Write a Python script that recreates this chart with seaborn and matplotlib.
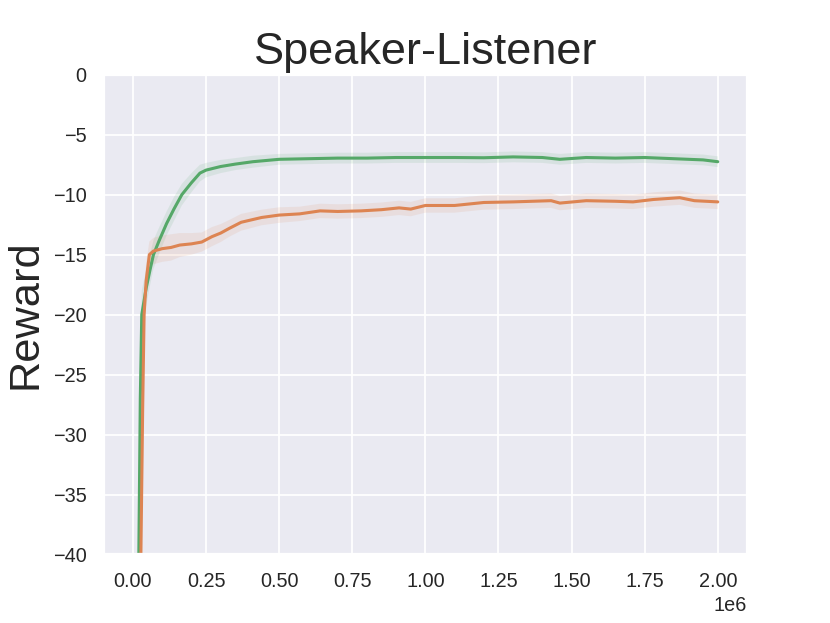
import numpy as np
import pandas as pd
import matplotlib
matplotlib.use('Agg')
import matplotlib.pyplot as plt
import seaborn as sns

# ── data (x in units of 1e6 steps) ────
green_x = [0, 0.01, 0.02, 0.025, 0.03, 0.045, 0.058, 0.07, 0.09, 0.115, 0.14,
           0.167, 0.2, 0.229, 0.25, 0.3, 0.35, 0.41, 0.5, 0.6, 0.7, 0.8, 0.9,
           1.0, 1.1, 1.2, 1.3, 1.4, 1.46, 1.55, 1.65, 1.75, 1.85, 1.95, 2.0]
green_y = [-90, -60, -40, -27, -20, -17.8, -16.3, -15.0, -13.8, -12.4, -11.2,
           -10.0, -9.0, -8.2, -7.95, -7.65, -7.45, -7.25, -7.05, -7.0, -6.95,
           -6.95, -6.9, -6.9, -6.9, -6.92, -6.85, -6.9, -7.05, -6.9, -6.95,
           -6.9, -7.0, -7.1, -7.25]
green_band = [3, 3, 3, 2.5, 2, 1.5, 1.3, 1.2, 1.1, 1.0, 1.0,
              0.9, 0.8, 0.7, 0.6, 0.55, 0.5, 0.5, 0.45, 0.45, 0.45,
              0.45, 0.45, 0.45, 0.45, 0.45, 0.45, 0.45, 0.45, 0.45, 0.45,
              0.45, 0.45, 0.45, 0.45]

orange_x = [0, 0.01, 0.02, 0.027, 0.033, 0.038, 0.045, 0.056, 0.07, 0.1, 0.13,
            0.16, 0.2, 0.235, 0.27, 0.3, 0.33, 0.37, 0.44, 0.5, 0.57, 0.64,
            0.7, 0.78, 0.85, 0.91, 0.95, 1.0, 1.1, 1.2, 1.3, 1.43, 1.46, 1.55,
            1.65, 1.71, 1.78, 1.87, 1.92, 2.0]
orange_y = [-100, -80, -55, -40, -28, -20, -17.2, -15.0, -14.7, -14.5, -14.4,
            -14.2, -14.1, -13.95, -13.5, -13.2, -12.8, -12.3, -11.9, -11.7,
            -11.6, -11.35, -11.4, -11.35, -11.25, -11.1, -11.2, -10.9, -10.9,
            -10.65, -10.6, -10.5, -10.7, -10.5, -10.55, -10.6, -10.4, -10.25,
            -10.5, -10.6]
orange_band = [3, 3, 3, 3, 2.5, 2, 1.5, 1.1, 1.1, 1.1, 1.1,
               1.0, 0.9, 0.8, 0.8, 0.75, 0.7, 0.7, 0.65, 0.65,
               0.6, 0.6, 0.6, 0.6, 0.6, 0.6, 0.6, 0.6, 0.6,
               0.6, 0.6, 0.6, 0.6, 0.6, 0.6, 0.6, 0.6, 0.6,
               0.6, 0.6]

GREEN = '#55a868'
ORANGE = '#dd8452'

sns.set_theme(style='darkgrid')
plt.rcParams['font.family'] = ['Liberation Sans', 'DejaVu Sans']

df = pd.concat([
    pd.DataFrame({'step': np.array(green_x) * 1e6, 'reward': green_y, 'algo': 'green'}),
    pd.DataFrame({'step': np.array(orange_x) * 1e6, 'reward': orange_y, 'algo': 'orange'}),
])

fig, ax = plt.subplots(figsize=(830 / 130, 623 / 130), dpi=130)

# noisy raw curves shown as faint envelopes
for xs, ys, bw, col in [(green_x, green_y, green_band, GREEN),
                        (orange_x, orange_y, orange_band, ORANGE)]:
    xs = np.array(xs) * 1e6
    ys = np.array(ys)
    bw = np.array(bw)
    ax.fill_between(xs, ys - bw, ys + bw, color=col, alpha=0.12, linewidth=0)

sns.lineplot(data=df, x='step', y='reward', hue='algo',
             palette={'green': GREEN, 'orange': ORANGE},
             linewidth=1.7, legend=False, ax=ax)

ax.set_ylim(-40, 0)
ax.set_xlim(-0.1e6, 2.1e6)
ax.set_title('Speaker-Listener', fontsize=25)
ax.set_ylabel('Reward', fontsize=24)
ax.set_xlabel('')

plt.savefig('out.png', dpi=130)
